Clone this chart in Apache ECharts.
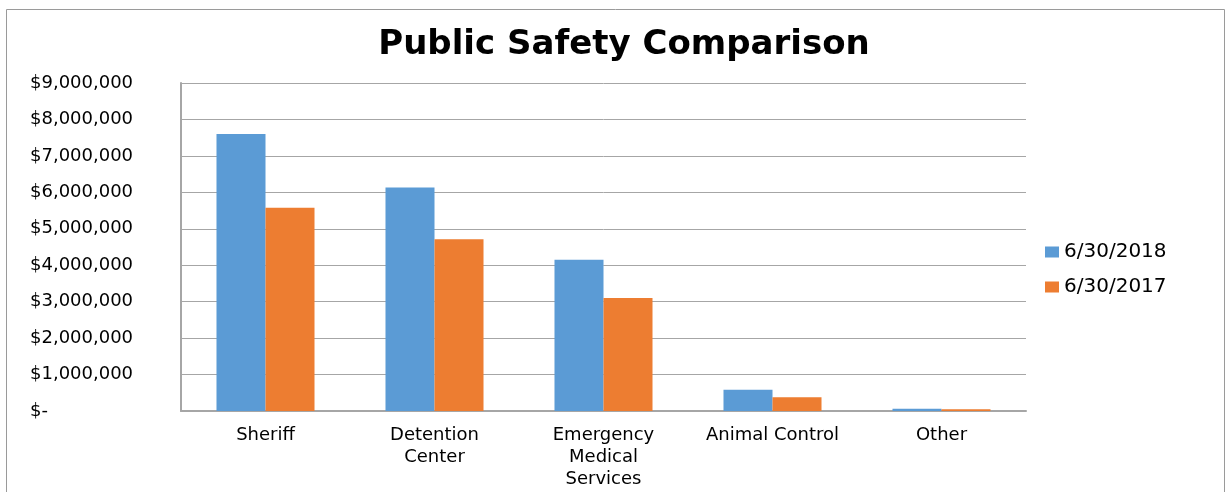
<!DOCTYPE html>
<html>
<head>
<meta charset="utf-8">
<script src="https://cdn.jsdelivr.net/npm/echarts@6/dist/echarts.min.js"></script>
<style>
html,body{margin:0;padding:0;background:#fff;}
#chart{width:1231px;height:492px;}
</style>
</head>
<body>
<div id="chart"></div>
<script>
const categories = ["Sheriff", "Detention\nCenter", "Emergency\nMedical\nServices", "Animal Control", "Other"];
const seriesNames = ["6/30/2018", "6/30/2017"];
const values2018 = [7600000, 6130000, 4150000, 585000, 65000];
const values2017 = [5580000, 4710000, 3100000, 375000, 45000];
const colors = ["#5B9BD5", "#ED7D31"];

const chart = echarts.init(document.getElementById('chart'));
function fmt(v){
  if (v === 0) return '$-';
  return '$' + v.toLocaleString('en-US');
}
chart.setOption({
  animation: false,
  textStyle: { fontFamily: 'DejaVu Sans' },
  title: {
    text: 'Public Safety Comparison',
    left: 619, top: 23, textAlign: 'center',
    textStyle: { fontFamily: 'DejaVu Sans', fontWeight: 'bold', fontSize: 34, color: '#000' }
  },
  graphic: [{
    type: 'rect', shape: { x: 6.5, y: 9.5, width: 1218, height: 500 },
    style: { fill: 'none', stroke: '#9a9a9a', lineWidth: 1 }, silent: true
  }],
  legend: {
    orient: 'vertical', left: 1040, top: 237, icon: 'rect',
    itemWidth: 14, itemHeight: 11, itemGap: 15,
    textStyle: { fontSize: 20, color: '#000', fontFamily: 'DejaVu Sans' },
    data: seriesNames
  },
  grid: { left: 181, right: 205, top: 83, bottom: 81, containLabel: false },
  xAxis: {
    type: 'category', data: categories,
    axisLine: { lineStyle: { color: '#a6a6a6', width: 2 } },
    axisTick: { show: false },
    axisLabel: { color: '#000', fontSize: 18, lineHeight: 22, margin: 13, interval: 0 }
  },
  yAxis: {
    type: 'value', min: 0, max: 9000000, interval: 1000000,
    axisLine: { show: true, lineStyle: { color: '#a6a6a6', width: 2 } },
    axisTick: { show: false },
    splitLine: { lineStyle: { color: '#a6a6a6', width: 1 } },
    axisLabel: { color: '#000', fontSize: 18, align: 'left', margin: 151, formatter: fmt }
  },
  series: [
    { name: seriesNames[0], type: 'bar', data: values2018, itemStyle: { color: colors[0] }, barGap: '0%', barCategoryGap: '42%' },
    { name: seriesNames[1], type: 'bar', data: values2017, itemStyle: { color: colors[1] }, barGap: '0%', barCategoryGap: '42%' }
  ]
});
</script>
</body>
</html>
